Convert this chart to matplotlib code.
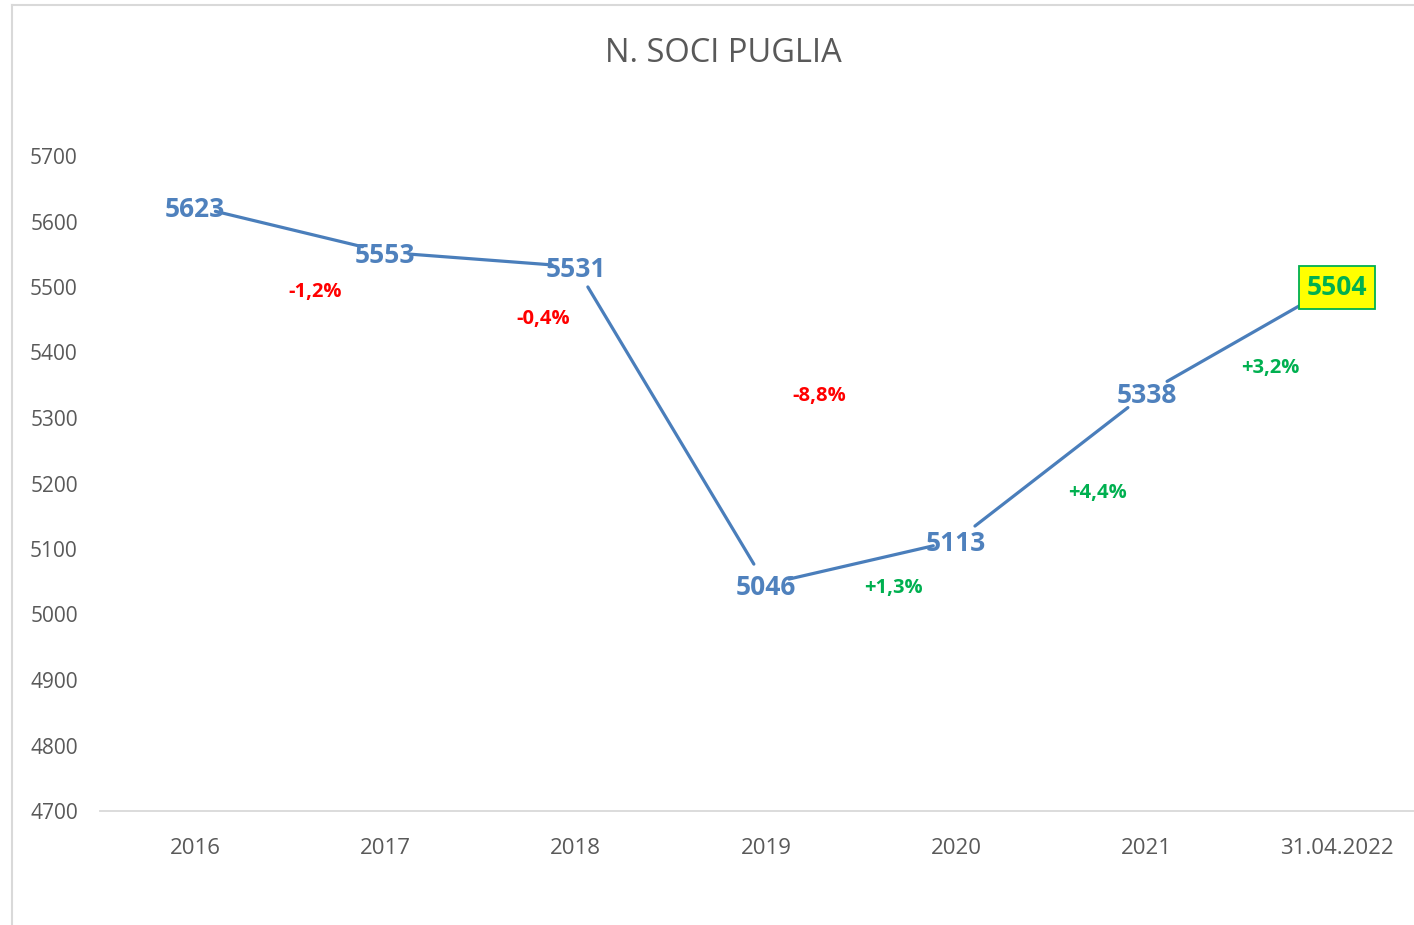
import matplotlib.pyplot as plt
import matplotlib.lines as mlines
import numpy as np

# data
categories = ['2016', '2017', '2018', '2019', '2020', '2021', '31.04.2022']
soci = [5623, 5553, 5531, 5046, 5113, 5338, 5504]
var_labels = ['-1,2%', '-0,4%', '-8,8%', '+1,3%', '+4,4%', '+3,2%']
var_x = [0.63, 1.83, 3.28, 3.67, 4.74, 5.65]
var_y = [5495, 5453, 5335, 5042, 5187, 5378]

RED = '#FF0000'
GREEN = '#00B050'
BLUE = '#4F81BD'
LINE = '#4A7EBB'
GREY = '#595959'

plt.rcParams['font.family'] = ['Open Sans', 'DejaVu Sans']

fig = plt.figure(figsize=(14.14, 9.25), dpi=100)
ax = fig.add_axes([100/1414, 1 - 811/925, 1332/1414, 655/925])

x = np.arange(len(categories))

# segments, shortened at both ends like the original
for i in range(len(soci) - 1):
    shrink_b = 28 if i == len(soci) - 2 else 17
    ax.annotate('', xy=(x[i+1], soci[i+1]), xytext=(x[i], soci[i]),
                arrowprops=dict(arrowstyle='-', color=LINE, lw=2.3,
                                shrinkA=15 if i == 0 else 17, shrinkB=shrink_b),
                annotation_clip=False)

# value labels
for i, v in enumerate(soci):
    last = i == len(soci) - 1
    box = None
    if last:
        box = dict(boxstyle='square,pad=0.3', facecolor='#FFFF00',
                   edgecolor=GREEN, linewidth=1.3)
    ax.annotate(str(v), (x[i], v), xytext=(0, -2), textcoords='offset points',
                ha='center', va='center', fontsize=19, fontweight='bold',
                color=GREEN if last else BLUE, zorder=5, bbox=box,
                annotation_clip=False)

# percentage changes
for lx, ly, lab in zip(var_x, var_y, var_labels):
    ax.annotate(lab, (lx, ly), xytext=(0, -1), textcoords='offset points',
                ha='center', va='center', fontsize=14.5, fontweight='bold',
                color=RED if lab.startswith('-') else GREEN)

ax.set_xlim(-0.5, len(categories) - 0.5)
ax.set_ylim(4700, 5700)
ax.set_yticks(np.arange(4700, 5701, 100))
ax.set_xticks(x)
ax.set_xticklabels(categories)
ax.tick_params(axis='both', length=0, colors=GREY)
ax.tick_params(axis='x', pad=19.5, labelsize=16)
ax.tick_params(axis='y', pad=16, labelsize=15)

for s in ['top', 'right', 'left']:
    ax.spines[s].set_visible(False)
ax.spines['bottom'].set_color('#D9D9D9')
ax.spines['bottom'].set_linewidth(1.3)
ax.patch.set_visible(False)

fig.text(723/1414, 1 - 54/925, 'N. SOCI PUGLIA', ha='center', va='center',
         fontsize=23.5, color=GREY)

# chart border
fig.add_artist(mlines.Line2D([12/1414, 12/1414], [0, 1 - 5/925], color='#D9D9D9', lw=1.5))
fig.add_artist(mlines.Line2D([12/1414, 1], [1 - 5/925, 1 - 5/925], color='#D9D9D9', lw=1.5))

fig.savefig('out.png', dpi=100)
plt.close()
